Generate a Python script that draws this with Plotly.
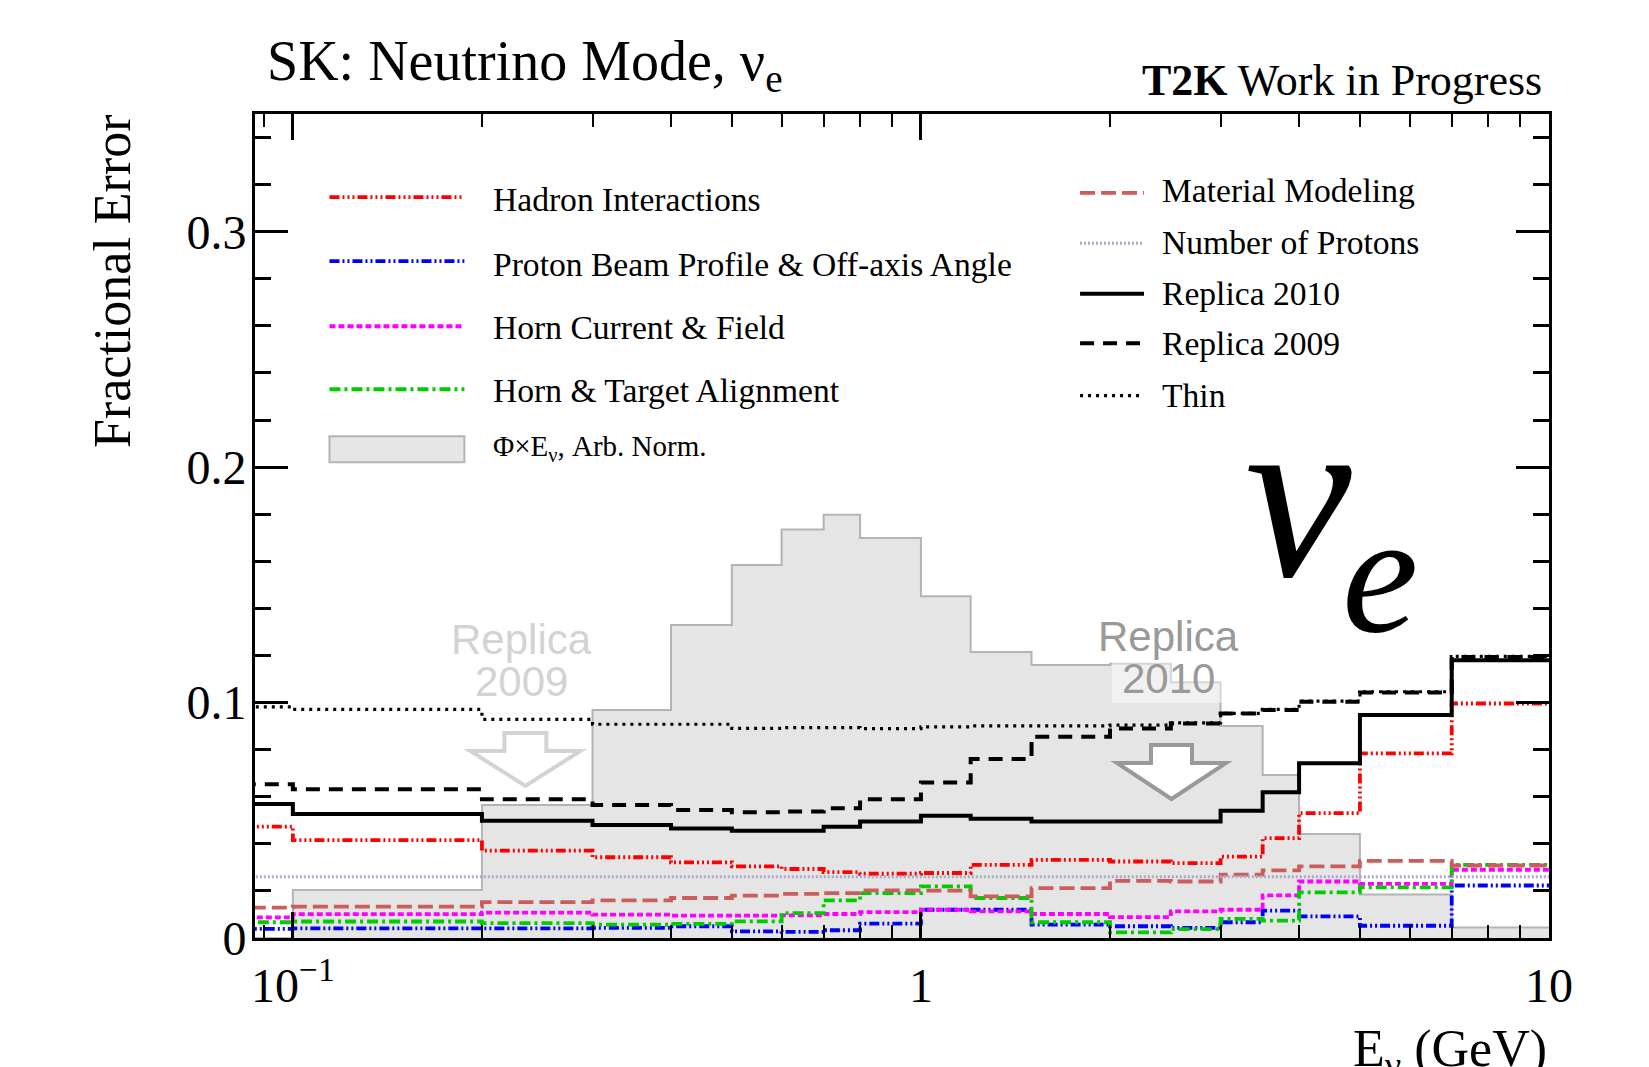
import plotly.graph_objects as go

# ---------------- data ----------------
E_EDGES = [0.05, 0.1, 0.2, 0.3, 0.4, 0.5, 0.6, 0.7, 0.8, 1.0, 1.2, 1.5,
           2.0, 2.5, 3.0, 3.5, 4.0, 5.0, 7.0, 10.0]

FLUX = [0.0, 0.0204, 0.0565, 0.0968, 0.1329, 0.1584, 0.1735, 0.1798, 0.1699,
        0.1452, 0.1215, 0.1160, 0.1165, 0.1086, 0.0900, 0.0692, 0.0442, 0.0185, 0.0045]
HADRON = [0.0473, 0.0416, 0.0371, 0.0343, 0.0321, 0.0304, 0.0293, 0.0280, 0.0273,
          0.0276, 0.0311, 0.0332, 0.0325, 0.0318, 0.0346, 0.0424, 0.0530, 0.0784, 0.0996]
BEAM = [0.0039, 0.0041, 0.0041, 0.0043, 0.0050, 0.0028, 0.0026, 0.0033, 0.0061,
        0.0120, 0.0120, 0.0057, 0.0050, 0.0043, 0.0067, 0.0116, 0.0092, 0.0052, 0.0223]
HORN_CURRENT = [0.0088, 0.0101, 0.0108, 0.0099, 0.0095, 0.0095, 0.0096, 0.0102, 0.0110,
                0.0120, 0.0113, 0.0102, 0.0089, 0.0113, 0.0120, 0.0181, 0.0240, 0.0230, 0.0290]
ALIGNMENT = [0.0067, 0.0070, 0.0063, 0.0057, 0.0060, 0.0071, 0.0106, 0.0160, 0.0191,
             0.0219, 0.0170, 0.0067, 0.0024, 0.0038, 0.0081, 0.0074, 0.0194, 0.0215, 0.0311]
MATERIAL = [0.0129, 0.0133, 0.0152, 0.0160, 0.0170, 0.0180, 0.0187, 0.0191, 0.0202,
            0.0201, 0.0177, 0.0212, 0.0243, 0.0240, 0.0269, 0.0287, 0.0304, 0.0328, 0.0308]
PROTONS = [0.026, 0.026, 0.026, 0.026, 0.026, 0.026, 0.026, 0.026, 0.026, 0.026,
           0.026, 0.026, 0.026, 0.026, 0.026, 0.026, 0.026, 0.026, 0.026]
REPLICA2010 = [0.0569, 0.0527, 0.0498, 0.0480, 0.0465, 0.0456, 0.0456, 0.0473, 0.0495,
               0.0519, 0.0506, 0.0495, 0.0495, 0.0495, 0.0540, 0.0619, 0.0742, 0.0947, 0.1180]
REPLICA2009 = [0.0653, 0.0632, 0.0589, 0.0565, 0.0544, 0.0534, 0.0537, 0.0551, 0.0589,
               0.0660, 0.0760, 0.0855, 0.0890, 0.0911, 0.0954, 0.0968, 0.1003, 0.1043, 0.1194]
THIN = [0.0982, 0.0971, 0.0929, 0.0908, 0.0908, 0.0890, 0.0894, 0.0894, 0.0889,
        0.0897, 0.0901, 0.0901, 0.0904, 0.0914, 0.0954, 0.0971, 0.1006, 0.1046, 0.1196]

X_TICKS = [0.1, 1, 10]
X_TICKTEXT = ["10<sup>\u22121</sup>", "1", "10"]
X_MINOR = [0.09, 0.2, 0.3, 0.4, 0.5, 0.6, 0.7, 0.8, 0.9, 2, 3, 4, 5, 6, 7, 8, 9]
Y_TICKS = [0, 0.1, 0.2, 0.3]
Y_TICKTEXT = ["0", "0.1", "0.2", "0.3"]

LEFT_LEGEND = ["Hadron Interactions", "Proton Beam Profile & Off-axis Angle",
               "Horn Current & Field", "Horn & Target Alignment"]
RIGHT_LEGEND = ["Material Modeling", "Number of Protons", "Replica 2010",
                "Replica 2009", "Thin"]

# ---------------- layout geometry (screen pixels) ----------------
W, H = 1649, 1067
L, R, T, B = 254.5, 1549.2, 113.6, 938.1
PAGE_OFFSET = 8  # default body margin of the html page
SERIF = "Liberation Serif"
SANS = "Liberation Sans"


def px(X):
    return (X - L) / (R - L)


def py(Y):
    return (B - Y) / (B - T)


def step(vals):
    return vals + [vals[-1]]


fig = go.Figure()

fig.add_trace(go.Scatter(
    x=E_EDGES, y=step(FLUX), mode="lines",
    line=dict(shape="hv", color="#b4b4b4", width=2),
    fill="tozeroy", fillcolor="#e5e5e5", showlegend=False, hoverinfo="skip"))

STYLES = [
    (HADRON, "#ff0000", "10px,3px,2px,3px,2px,3px,2px,3px", 3.8),
    (BEAM, "#0000ff", "10px,3px,2px,3px,2px,3px", 3.8),
    (HORN_CURRENT, "#ff00ff", "6px,3px", 3.8),
    (ALIGNMENT, "#00cc00", "11px,4px,3px,4px", 3.8),
    (MATERIAL, "#cd5c5c", "15px,6px", 3.8),
    (PROTONS, "#a8a8cc", "2px,2px", 3),
    (REPLICA2010, "black", "solid", 4),
    (REPLICA2009, "black", "14px,9px", 4),
    (THIN, "black", "3px,5px", 3.2),
]
for vals, col, dash, w in STYLES:
    fig.add_trace(go.Scatter(
        x=E_EDGES, y=step(vals), mode="lines",
        line=dict(shape="hv", color=col, dash=dash, width=w),
        showlegend=False, hoverinfo="skip"))

shapes = []
annotations = []

# legend (left column)
left_y_line = [196.7, 260.8, 326.0, 389.0]
left_y_text = [198.8, 264.0, 327.0, 390.0]
for i, (vals, col, dash, w) in enumerate(STYLES[:4]):
    shapes.append(dict(type="line", xref="paper", yref="paper",
                       x0=px(329), x1=px(464), y0=py(left_y_line[i]), y1=py(left_y_line[i]),
                       line=dict(color=col, dash=dash, width=w)))
    annotations.append(dict(text=LEFT_LEGEND[i], x=px(491), y=py(left_y_text[i]),
                            xanchor="left", yanchor="middle", showarrow=False,
                            font=dict(family=SERIF, size=33.6, color="black")))
shapes.append(dict(type="rect", xref="paper", yref="paper",
                   x0=px(329), x1=px(464), y0=py(462), y1=py(436),
                   fillcolor="#e5e5e5", line=dict(color="#b4b4b4", width=2)))
annotations.append(dict(text="\u03a6\u00d7E<sub>\u03bd</sub>, Arb. Norm.", x=px(491), y=py(448),
                        xanchor="left", yanchor="middle", showarrow=False,
                        font=dict(family=SERIF, size=29, color="black")))

# legend (right column)
right_y_line = [192.5, 243.0, 293.4, 342.9, 395.4]
right_y_text = [190.0, 242.0, 293.0, 343.0, 395.0]
for i, (vals, col, dash, w) in enumerate(STYLES[4:]):
    shapes.append(dict(type="line", xref="paper", yref="paper",
                       x0=px(1080), x1=px(1144), y0=py(right_y_line[i]), y1=py(right_y_line[i]),
                       line=dict(color=col, dash=dash, width=w)))
    annotations.append(dict(text=RIGHT_LEGEND[i], x=px(1160), y=py(right_y_text[i]),
                            xanchor="left", yanchor="middle", showarrow=False,
                            font=dict(family=SERIF, size=33.6, color="black")))

# label box behind "2010"
shapes.append(dict(type="rect", xref="paper", yref="paper", layer="above",
                   x0=px(1112), x1=px(1222), y0=py(703), y1=py(662),
                   fillcolor="rgba(255,255,255,0.45)", line=dict(width=0)))


def arrow_path(xl, xr, top, neck, hl, hr, tip):
    cx = (xl + xr) / 2
    pts = [(xl, top), (xr, top), (xr, neck), (hr, neck), (cx, tip), (hl, neck), (xl, neck)]
    return "M " + " L ".join(f"{px(a):.5f},{py(b):.5f}" for a, b in pts) + " Z"


shapes.append(dict(type="path", xref="paper", yref="paper", layer="above",
                   path=arrow_path(504, 546, 733, 751, 470, 580, 786),
                   line=dict(color="#d3d3d3", width=4)))
shapes.append(dict(type="path", xref="paper", yref="paper", layer="above",
                   path=arrow_path(1151, 1192, 745, 763, 1117, 1226, 799),
                   fillcolor="white", line=dict(color="#999999", width=4)))

# texts
annotations += [
    dict(text="SK: Neutrino Mode, \u03bd<sub>e</sub>", x=px(265), y=py(65),
         xanchor="left", yanchor="middle", font=dict(family=SERIF, size=56, color="black")),
    dict(text="<b>T2K</b> Work in Progress", x=px(1544), y=py(80),
         xanchor="right", yanchor="middle", font=dict(family=SERIF, size=44, color="black")),
    dict(text="Fractional Error", x=px(112), y=py(112), textangle=-90,
         xanchor="center", yanchor="top", font=dict(family=SERIF, size=52, color="black")),
    dict(text="E<sub>\u03bd</sub> (GeV)", x=px(1549), y=py(1053),
         xanchor="right", yanchor="middle", font=dict(family=SERIF, size=52, color="black")),
    dict(text="<i>\u03bd</i>", x=px(1299), y=py(495), xanchor="center", yanchor="middle",
         font=dict(family=SERIF, size=240, color="black")),
    dict(text="<i>e</i>", x=px(1380), y=py(573), xanchor="center", yanchor="middle",
         font=dict(family=SERIF, size=172, color="black")),
    dict(text="Replica", x=px(521), y=py(639), xanchor="center", yanchor="middle",
         font=dict(family=SANS, size=42, color="#d3d3d3")),
    dict(text="2009", x=px(521), y=py(681), xanchor="center", yanchor="middle",
         font=dict(family=SANS, size=42, color="#d3d3d3")),
    dict(text="Replica", x=px(1168), y=py(636), xanchor="center", yanchor="middle",
         font=dict(family=SANS, size=42, color="#999999")),
    dict(text="2010", x=px(1168), y=py(678), xanchor="center", yanchor="middle",
         font=dict(family=SANS, size=42, color="#999999")),
]
for a in annotations:
    a.setdefault("xref", "paper")
    a.setdefault("yref", "paper")
    a.setdefault("showarrow", False)

fig.update_layout(
    width=W, height=H,
    margin=dict(l=L - PAGE_OFFSET, r=W - R + PAGE_OFFSET,
                t=T - PAGE_OFFSET, b=H - B + PAGE_OFFSET, pad=0),
    paper_bgcolor="white", plot_bgcolor="white",
    shapes=shapes, annotations=annotations,
    xaxis=dict(type="log", range=[-1.0603, 1], tickmode="array",
               tickvals=X_TICKS, ticktext=X_TICKTEXT,
               ticks="inside", ticklen=26, tickwidth=2.5, tickcolor="black",
               showline=True, linecolor="black", linewidth=3, mirror="allticks",
               showgrid=False, zeroline=False, ticklabelstandoff=3,
               tickfont=dict(family=SERIF, size=48, color="black"),
               minor=dict(tickmode="array", tickvals=X_MINOR, ticks="inside",
                          ticklen=13, tickwidth=2, tickcolor="black", showgrid=False)),
    yaxis=dict(range=[0, 0.35], tickmode="array", tickvals=Y_TICKS, ticktext=Y_TICKTEXT,
               ticks="inside", ticklen=33, tickwidth=3, tickcolor="black",
               showline=True, linecolor="black", linewidth=3, mirror="allticks",
               showgrid=False, zeroline=False, ticklabelstandoff=-4,
               tickfont=dict(family=SERIF, size=48, color="black"),
               minor=dict(dtick=0.02, tick0=0, ticks="inside", ticklen=16,
                          tickwidth=2.5, tickcolor="black", showgrid=False)),
)

fig.write_html("out.html")
